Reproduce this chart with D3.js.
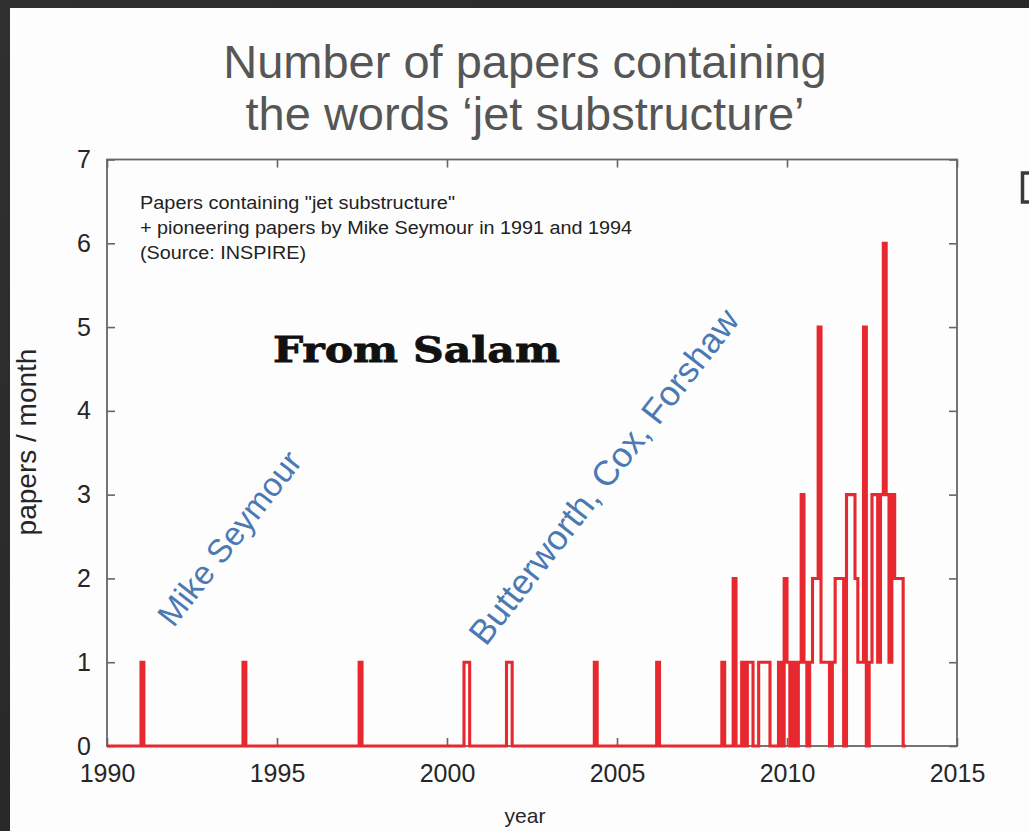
<!DOCTYPE html>
<html>
<head>
<meta charset="utf-8">
<script src="https://cdn.jsdelivr.net/npm/d3@7"></script>
<style>
  html, body { margin: 0; padding: 0; background: #2b2b2b; overflow: hidden; }
  svg { display: block; }
</style>
</head>
<body>
<svg id="chart" width="1029" height="831"></svg>
<script>
// ---- chart text ----
const titleLines = ["Number of papers containing", "the words \u2018jet substructure\u2019"];
const legendLines = [
  "Papers containing \"jet substructure\"",
  "+ pioneering papers by Mike Seymour in 1991 and 1994",
  "(Source: INSPIRE)"
];
const milestoneLabels = ["Mike Seymour", "Butterworth, Cox, Forshaw"];
const stampText = "From Salam";
const xAxisTitle = "year";
const yAxisTitle = "papers / month";

// ---- axes ----
const yearTicks = [1990, 1995, 2000, 2005, 2010, 2015];
const countTicks = [0, 1, 2, 3, 4, 5, 6, 7];

// ---- monthly counts (months not listed had no papers) ----
const firstMonth = "1990-01";
const lastMonth = "2013-06";
const paperMonths = [
  "1991-01", "1994-01", "1997-06", "2000-07", "2000-08", "2001-10", "2001-11",
  "2004-05", "2006-03",
  "2008-02", "2008-06", "2008-09", "2008-11", "2008-12",
  "2009-03", "2009-04", "2009-05", "2009-06", "2009-10", "2009-12",
  "2010-01", "2010-03", "2010-05", "2010-06", "2010-07", "2010-09",
  "2010-10", "2010-11", "2010-12",
  "2011-01", "2011-02", "2011-03", "2011-05", "2011-06", "2011-07", "2011-08",
  "2011-10", "2011-11", "2011-12",
  "2012-01", "2012-02", "2012-03", "2012-04", "2012-06", "2012-07", "2012-08",
  "2012-09", "2012-10", "2012-11", "2012-12",
  "2013-01", "2013-02", "2013-03", "2013-04", "2013-05"
];
const paperCounts = [
  1, 1, 1, 1, 1, 1, 1,
  1, 1,
  1, 2, 1, 1, 1,
  1, 1, 1, 1, 1, 2,
  1, 1, 1, 3, 1, 1,
  2, 2, 5,
  1, 1, 1, 1, 2, 2, 2,
  3, 3, 3,
  2, 1, 1, 5, 1, 3, 3,
  1, 3, 6, 3,
  1, 3, 2, 2, 2
];

// ---- layout ----
const W = 1029, H = 831;
const plot = { left: 107, right: 957, top: 159.5, bottom: 746 };

const svg = d3.select("#chart");

// slide background and white panel
const defs = svg.append("defs");
const bg = defs.append("linearGradient").attr("id", "slideBg")
  .attr("x1", 0).attr("y1", 0).attr("x2", 1).attr("y2", 1);
bg.append("stop").attr("offset", 0).attr("stop-color", "#303030");
bg.append("stop").attr("offset", 1).attr("stop-color", "#222222");
svg.append("rect").attr("width", W).attr("height", H).attr("fill", "url(#slideBg)");
svg.append("rect").attr("x", 10).attr("y", 8).attr("width", W - 10).attr("height", H - 8)
  .attr("fill", "#fdfdfd");

// edge of the neighbouring slide element, cut off at the right border
svg.append("path").attr("d", "M1029,173 H1022.5 V202 H1029")
  .attr("fill", "none").attr("stroke", "#3a3a3a").attr("stroke-width", 3.5);

const x = d3.scaleLinear().domain([1990, 2015]).range([plot.left, plot.right]);
const y = d3.scaleLinear().domain([0, 7]).range([plot.bottom, plot.top]);

const sans = "Liberation Sans, Arial, Helvetica, sans-serif";

// title
svg.append("g").selectAll("text").data(titleLines).join("text")
  .attr("x", 525).attr("y", (d, i) => 78 + i * 52)
  .attr("text-anchor", "middle")
  .attr("font-family", sans).attr("font-size", 47)
  .attr("fill", "#565656")
  .text(d => d);

// frame
const frameColor = "#666";
svg.append("rect")
  .attr("x", plot.left).attr("y", plot.top)
  .attr("width", plot.right - plot.left).attr("height", plot.bottom - plot.top)
  .attr("fill", "none").attr("stroke", frameColor).attr("stroke-width", 1.8);

// inward ticks on all four sides
const tickLen = 8;
const axisBottom = d3.axisBottom(x).tickValues(yearTicks).tickFormat(d3.format("d"))
  .tickSizeInner(-tickLen).tickSizeOuter(0).tickPadding(18);
const axisTop = d3.axisTop(x).tickValues(yearTicks).tickFormat("")
  .tickSizeInner(-tickLen).tickSizeOuter(0);
const axisLeft = d3.axisLeft(y).tickValues(countTicks).tickFormat(d3.format("d"))
  .tickSizeInner(-tickLen).tickSizeOuter(0).tickPadding(16);
const axisRight = d3.axisRight(y).tickValues(countTicks).tickFormat("")
  .tickSizeInner(-tickLen).tickSizeOuter(0);

function styleAxis(g) {
  g.select(".domain").remove();
  g.selectAll(".tick line").attr("stroke", frameColor).attr("stroke-width", 1.6);
  g.selectAll(".tick text")
    .attr("font-family", sans).attr("font-size", 25).attr("fill", "#262626");
}
svg.append("g").attr("transform", `translate(0,${plot.bottom})`).call(axisBottom).call(styleAxis);
svg.append("g").attr("transform", `translate(0,${plot.top})`).call(axisTop).call(styleAxis);
svg.append("g").attr("transform", `translate(${plot.left},0)`).call(axisLeft).call(styleAxis);
svg.append("g").attr("transform", `translate(${plot.right},0)`).call(axisRight).call(styleAxis);

// axis titles
svg.append("text").attr("x", 525).attr("y", 823).attr("text-anchor", "middle")
  .attr("font-family", sans).attr("font-size", 21).attr("fill", "#262626")
  .text(xAxisTitle);
svg.append("text").attr("transform", "translate(36,442) rotate(-90)")
  .attr("text-anchor", "middle")
  .attr("font-family", sans).attr("font-size", 28).attr("fill", "#262626")
  .text(yAxisTitle);

// legend text in the top-left corner of the plot
const legendWidths = [315, 492, 166];
svg.append("g").selectAll("text").data(legendLines).join("text")
  .attr("x", 140).attr("y", (d, i) => 209 + i * 25)
  .attr("font-family", sans).attr("font-size", 17.5).attr("fill", "#222")
  .attr("textLength", (d, i) => legendWidths[i]).attr("lengthAdjust", "spacingAndGlyphs")
  .text(d => d);

// monthly series: every month between firstMonth and lastMonth
const toYear = s => { const [yy, mm] = s.split("-").map(Number); return yy + (mm - 1) / 12; };
const countByMonth = new Map(paperMonths.map((m, i) => [m, paperCounts[i]]));
const [fy, fm] = firstMonth.split("-").map(Number);
const [ly, lm] = lastMonth.split("-").map(Number);
const series = [];
for (let yy = fy, mm = fm; yy < ly || (yy === ly && mm <= lm); ) {
  const key = `${yy}-${String(mm).padStart(2, "0")}`;
  series.push({ t: toYear(key), v: countByMonth.get(key) || 0 });
  mm++; if (mm > 12) { mm = 1; yy++; }
}
// closing point at the end of the last month
series.push({ t: series[series.length - 1].t + 1 / 12, v: series[series.length - 1].v });

const stepLine = d3.line().x(d => x(d.t)).y(d => y(d.v)).curve(d3.curveStepAfter);
svg.append("path").datum(series)
  .attr("d", stepLine)
  .attr("fill", "none").attr("stroke", "#e8282f")
  .attr("stroke-width", 3.1).attr("stroke-linejoin", "miter");

// milestone annotations
const milestoneAnchors = [[1993.6, 2.48], [2004.6, 3.22]];
svg.append("g").selectAll("text").data(milestoneLabels).join("text")
  .attr("transform", (d, i) => `translate(${x(milestoneAnchors[i][0])},${y(milestoneAnchors[i][1])}) rotate(-52)`)
  .attr("text-anchor", "middle").attr("dominant-baseline", "central")
  .attr("font-family", sans).attr("font-size", (d, i) => i === 0 ? 33 : 35).attr("fill", "#4a79b4")
  .text(d => d);

// stamp
svg.append("text").attr("x", x(1994.88)).attr("y", y(4.58))
  .attr("font-family", "DejaVu Serif, serif").attr("font-weight", "bold")
  .attr("font-size", 36).attr("fill", "#111")
  .attr("stroke", "#111").attr("stroke-width", 0.8)
  .attr("textLength", 287).attr("lengthAdjust", "spacingAndGlyphs")
  .text(stampText);
</script>
</body>
</html>
